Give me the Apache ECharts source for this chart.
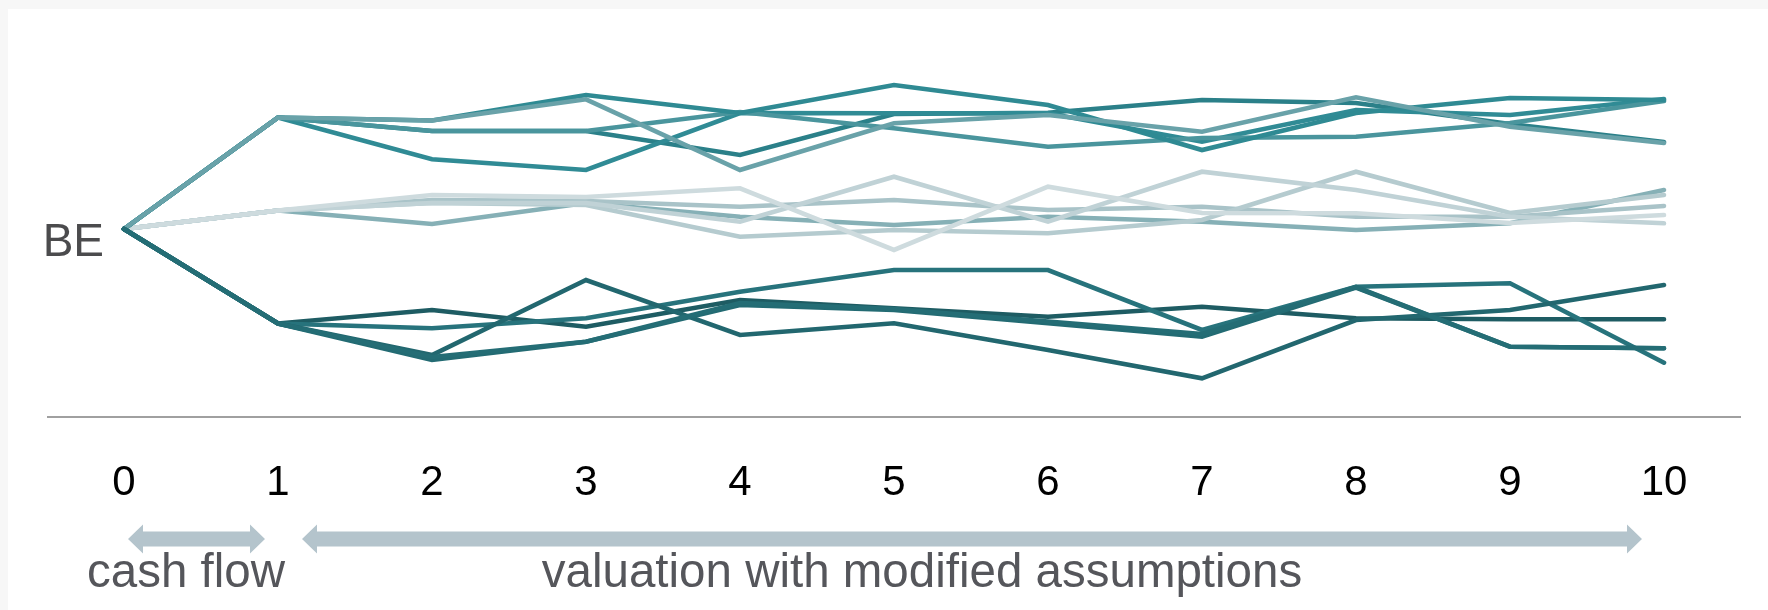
<!DOCTYPE html>
<html>
<head>
<meta charset="utf-8">
<script src="https://cdn.jsdelivr.net/npm/echarts@6/dist/echarts.min.js"></script>
<style>
  html, body { margin: 0; padding: 0; background: #f7f7f7; }
  #chart { width: 1768px; height: 610px; }
</style>
</head>
<body>
<div id="chart"></div>
<script>
// Periods on the x axis
const periods = ['0', '1', '2', '3', '4', '5', '6', '7', '8', '9', '10'];

// Values relative to the BE (break-even) level, 0 = BE
const upper1 = [0, 111.5, 108.5, 134, 116, 144, 124, 79, 116, 131, 129];
const upper2 = [0, 111.5, 108.5, 129.7, 59, 105.7, 114, 97.3, 131.7, 102.3, 86];
const upper3 = [0, 111.5, 98, 98, 74, 115, 116.3, 129, 126, 105, 87];
const upper4 = [0, 111.5, 69.7, 59, 116, 115.7, 115.7, 87.3, 119, 114, 130];
const upper5 = [0, 111.5, 98, 98, 117, 100.7, 82.3, 91, 92.3, 106, 128];

const middle1 = [0, 18.5, 34, 32, 40.7, -21, 42.3, 16, 15.7, 6, 14];
const middle2 = [0, 18.5, 26, 26, 7.3, 52.3, 7.3, 57.3, 39, 12.3, 5.7];
const middle3 = [0, 18.5, 29, 28, 22.3, 29, 19, 22.3, 12.3, 12.3, 23];
const middle4 = [0, 18.5, 5, 26, 12.3, 4, 12.3, 7.3, -1, 5.7, 39];
const middle5 = [0, 18.5, 26, 24, -7.7, -1, -4.3, 9, 57.3, 16, 34];

const lower1 = [0, -94.5, -81, -97.7, -71, -79.3, -87.7, -77.7, -89.3, -90.3, -90.3];
const lower2 = [0, -94.5, -99.3, -89.3, -62.7, -41, -41, -101, -57.7, -54.3, -133.7];
const lower3 = [0, -94.5, -126, -51, -106, -94.3, -121, -149.3, -91, -81, -56];
const lower4 = [0, -94.5, -131, -112.7, -76, -81, -94.3, -107.7, -58.5, -117.7, -119.3];
const lower5 = [0, -94.5, -128, -112.7, -74, -80, -92.5, -105, -58, -117.7, -119.3];

const baseLabel = 'BE';
const spanLabels = ['cash flow', 'valuation with modified assumptions'];

const lines = [
  { data: middle4, color: '#86b0b6' },
  { data: middle3, color: '#a9c3c8' },
  { data: middle5, color: '#b5cbcf' },
  { data: middle2, color: '#c0d2d6' },
  { data: middle1, color: '#cedbde' },
  { data: upper3, color: '#2b8089' },
  { data: upper4, color: '#308b95' },
  { data: upper5, color: '#4a959d' },
  { data: upper1, color: '#2f8a93' },
  { data: upper2, color: '#69a2a9' },
  { data: lower1, color: '#1e5c63' },
  { data: lower2, color: '#27737c' },
  { data: lower3, color: '#22676f' },
  { data: lower4, color: '#236b73' },
  { data: lower5, color: '#246d75' }
];

const chart = echarts.init(document.getElementById('chart'), null, { renderer: 'canvas' });

const FONT = "'Liberation Sans', Arial, sans-serif";
const arrowColor = '#b4c4cc';

function arrowPoints(x1, x2, cy, shaft, head, headLen) {
  const h = shaft / 2, H = head / 2;
  return [
    [x1, cy], [x1 + headLen, cy - H], [x1 + headLen, cy - h],
    [x2 - headLen, cy - h], [x2 - headLen, cy - H], [x2, cy],
    [x2 - headLen, cy + H], [x2 - headLen, cy + h],
    [x1 + headLen, cy + h], [x1 + headLen, cy + H]
  ];
}

const option = {
  backgroundColor: '#f7f7f7',
  animation: false,
  grid: { left: 124, right: 104, top: 29, bottom: 193 },
  xAxis: {
    type: 'category',
    data: periods,
    boundaryGap: false,
    axisLine: { show: false },
    axisTick: { show: false },
    splitLine: { show: false },
    axisLabel: { fontSize: 42, color: '#000000', fontFamily: FONT, margin: 45 }
  },
  yAxis: {
    type: 'value',
    min: -188,
    max: 200,
    show: false
  },
  graphic: [
    { type: 'rect', z: -10, shape: { x: 8, y: 9, width: 1760, height: 601 }, style: { fill: '#ffffff' } },
    { type: 'line', shape: { x1: 47, y1: 417, x2: 1741, y2: 417 }, style: { stroke: '#808080', lineWidth: 1.5 } },
    { type: 'text', x: 104, y: 243, style: { text: baseLabel, fontSize: 46, fill: '#4b4b4d', fontFamily: FONT, textAlign: 'right', textVerticalAlign: 'middle' } },
    { type: 'polygon', shape: { points: arrowPoints(128, 265, 539, 15, 29, 15) }, style: { fill: arrowColor } },
    { type: 'polygon', shape: { points: arrowPoints(302, 1642, 539, 15, 29, 15) }, style: { fill: arrowColor } },
    { type: 'text', x: 186, y: 574, style: { text: spanLabels[0], fontSize: 47.5, fill: '#55565b', fontFamily: FONT, textAlign: 'center', textVerticalAlign: 'middle' } },
    { type: 'text', x: 922, y: 574, style: { text: spanLabels[1], fontSize: 47.5, fill: '#55565b', fontFamily: FONT, textAlign: 'center', textVerticalAlign: 'middle' } }
  ],
  series: lines.map((l, i) => ({
    type: 'line',
    data: l.data,
    symbol: 'none',
    z: 2 + i,
    lineStyle: { color: l.color, width: 4.6, cap: 'round', join: 'miter' }
  }))
};

chart.setOption(option);
</script>
</body>
</html>
